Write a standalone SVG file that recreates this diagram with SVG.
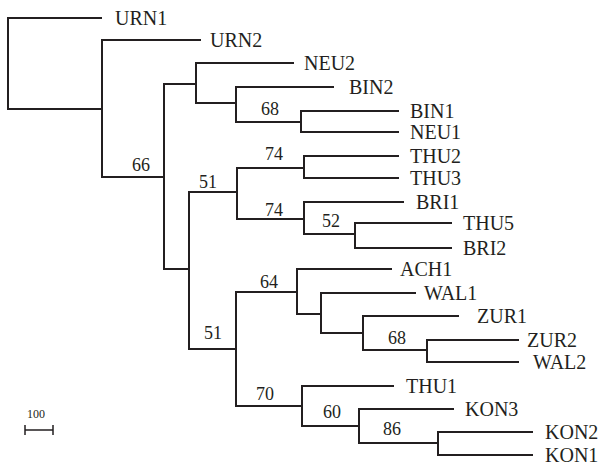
<svg xmlns="http://www.w3.org/2000/svg" width="603" height="470" viewBox="0 0 603 470">
<style>
.br{fill:none;stroke:#231f20;stroke-width:2;stroke-linejoin:miter;stroke-linecap:square}
.sb{fill:none;stroke:#231f20;stroke-width:1.5}
.tip{font-family:"Liberation Serif","Times New Roman",serif;font-size:20px;fill:#231f20}
.bs{font-family:"Liberation Serif","Times New Roman",serif;font-size:18px;fill:#231f20;text-anchor:middle}
.sc{font-family:"Liberation Serif","Times New Roman",serif;font-size:12px;fill:#231f20;text-anchor:middle}
</style>
<rect width="603" height="470" fill="#fff"/>
<g id="connectors">
<path class="br" d="M101,18 H8 V109 H102"/>
<path class="br" d="M200,40 H102 V177 H164"/>
<path class="br" d="M196,84 H164 V269 H189"/>
<path class="br" d="M293,63 H196 V103 H236"/>
<path class="br" d="M333,87 H236 V122 H301"/>
<path class="br" d="M398,111 H301 V132 H398"/>
<path class="br" d="M237,192 H189 V349 H236"/>
<path class="br" d="M304,168 H237 V219 H304"/>
<path class="br" d="M398,156 H304 V178 H398"/>
<path class="br" d="M403,202 H304 V234 H355"/>
<path class="br" d="M451,223 H355 V248 H451"/>
<path class="br" d="M297,292 H236 V406 H302"/>
<path class="br" d="M391,269 H297 V314 H321"/>
<path class="br" d="M415,293 H321 V333 H363"/>
<path class="br" d="M458,316 H363 V350 H427"/>
<path class="br" d="M518,340 H427 V362 H518"/>
<path class="br" d="M393,386 H302 V426 H359"/>
<path class="br" d="M453,409 H359 V443 H438"/>
<path class="br" d="M532,432 H438 V455 H532"/>
</g>
<g id="bootstrap">
<text class="bs" x="141" y="171">66</text>
<text class="bs" x="270" y="115">68</text>
<text class="bs" x="208" y="188">51</text>
<text class="bs" x="274" y="160">74</text>
<text class="bs" x="274" y="216">74</text>
<text class="bs" x="331" y="227">52</text>
<text class="bs" x="213" y="339">51</text>
<text class="bs" x="269" y="288">64</text>
<text class="bs" x="397" y="344">68</text>
<text class="bs" x="265" y="400">70</text>
<text class="bs" x="332" y="418">60</text>
<text class="bs" x="392" y="435">86</text>
</g>
<g id="URN1"><text class="tip" x="115" y="25">URN1</text></g>
<g id="URN2"><text class="tip" x="210" y="47">URN2</text></g>
<g id="NEU2"><text class="tip" x="304" y="70">NEU2</text></g>
<g id="BIN2"><text class="tip" x="349" y="94">BIN2</text></g>
<g id="BIN1"><text class="tip" x="410" y="118">BIN1</text></g>
<g id="NEU1"><text class="tip" x="410" y="139">NEU1</text></g>
<g id="THU2"><text class="tip" x="410" y="163">THU2</text></g>
<g id="THU3"><text class="tip" x="410" y="185">THU3</text></g>
<g id="BRI1"><text class="tip" x="416" y="209">BRI1</text></g>
<g id="THU5"><text class="tip" x="463" y="230">THU5</text></g>
<g id="BRI2"><text class="tip" x="463" y="255">BRI2</text></g>
<g id="ACH1"><text class="tip" x="400" y="276">ACH1</text></g>
<g id="WAL1"><text class="tip" x="424" y="300">WAL1</text></g>
<g id="ZUR1"><text class="tip" x="477" y="323">ZUR1</text></g>
<g id="ZUR2"><text class="tip" x="527" y="347">ZUR2</text></g>
<g id="WAL2"><text class="tip" x="533" y="369">WAL2</text></g>
<g id="THU1"><text class="tip" x="406" y="393">THU1</text></g>
<g id="KON3"><text class="tip" x="465" y="416">KON3</text></g>
<g id="KON2"><text class="tip" x="545" y="439">KON2</text></g>
<g id="KON1"><text class="tip" x="545" y="462">KON1</text></g>
<g id="scale">
<text class="sc" x="36" y="418">100</text>
<path class="sb" d="M25,430 H53 M25,425 V435 M53,425 V435"/>
</g>
</svg>
